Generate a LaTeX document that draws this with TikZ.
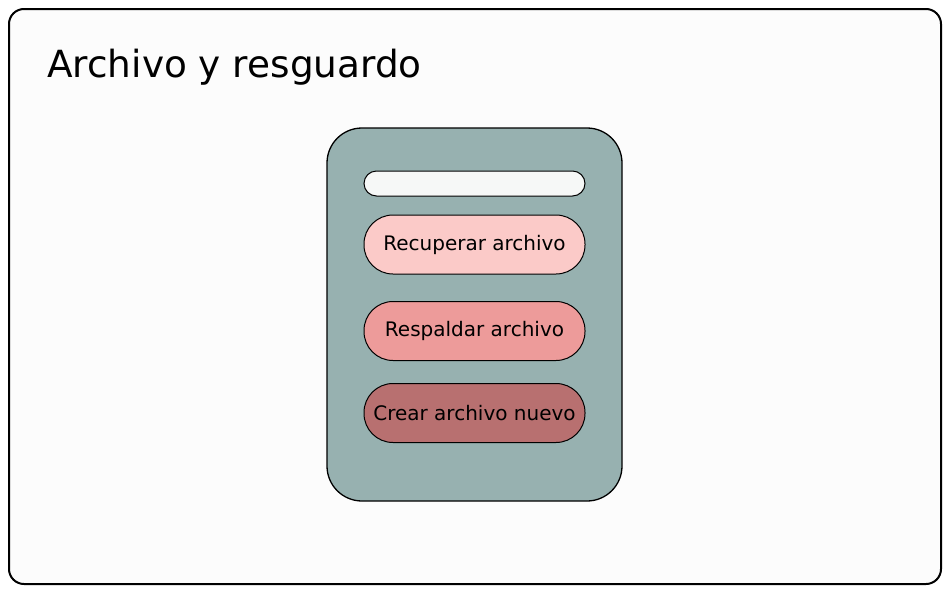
\documentclass[tikz,border=0pt]{standalone}
\usepackage{fontspec}
\setmainfont{DejaVu Sans}
\definecolor{bgc}{HTML}{FCFCFC}
\definecolor{panelc}{HTML}{97B1B0}
\definecolor{searchc}{HTML}{F6F8F7}
\definecolor{btnone}{HTML}{FBCAC8}
\definecolor{btntwo}{HTML}{ED9B9A}
\definecolor{btnthree}{HTML}{B87070}
\begin{document}
\begin{tikzpicture}[x=1pt,y=-1pt,
  btn/.style={draw=black,line width=1pt,rounded corners=29pt,minimum width=221pt,minimum height=59pt,inner sep=0pt,font=\fontsize{20}{24}\selectfont}]
\useasboundingbox (0,0) rectangle (948,592);
\draw[line width=2pt,fill=bgc,rounded corners=15pt] (9,9) rectangle (941,584);
\node[anchor=base west,inner sep=0pt,font=\fontsize{37.4}{44}\selectfont] (title) at (47,77.5) {Archivo y resguardo};
\draw[line width=1.3pt,fill=panelc,rounded corners=35pt] (327,128) rectangle (622,501);
\node[draw=black,line width=1pt,fill=searchc,rounded corners=12.5pt,minimum width=221pt,minimum height=25pt,inner sep=0pt] (search) at (474.5,183.5) {};
\node[btn,fill=btnone] (b1) at (474.5,244.5) {Recuperar archivo};
\node[btn,fill=btntwo] (b2) at (474.5,331) {Respaldar archivo};
\node[btn,fill=btnthree] (b3) at (474.5,413) {Crear archivo nuevo};
\end{tikzpicture}
\end{document}
